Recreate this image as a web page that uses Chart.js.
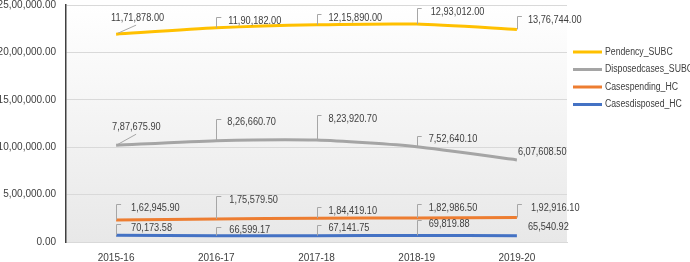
<!DOCTYPE html>
<html><head><meta charset="utf-8">
<script src="https://cdn.jsdelivr.net/npm/chart.js@4.4.1/dist/chart.umd.min.js"></script>
<style>html,body{margin:0;padding:0;background:#fff}#wrap{width:690px;height:262px}</style>
</head><body><div id="wrap"><canvas id="c" width="690" height="262"></canvas></div>
<script>
const categories = ['2015-16','2016-17','2017-18','2018-19','2019-20'];
const seriesNames = ['Casesdisposed_HC','Casespending_HC','Disposedcases_SUBC','Pendency_SUBC'];
const casesDisposedHC = [70173.58, 66599.17, 67141.75, 69819.88, 65540.92];
const casesPendingHC = [162945.90, 175579.50, 184419.10, 182986.50, 192916.10];
const disposedCasesSUBC = [787675.90, 826660.70, 823920.70, 752640.10, 607608.50];
const pendencySUBC = [1171878.00, 1190182.00, 1215890.00, 1293012.00, 1376744.00];
const yTicks = [0, 500000, 1000000, 1500000, 2000000, 2500000];

const FONT = "'Liberation Sans', Arial, sans-serif";
const TXT = '#404040';

function inr(v){
  const parts = Math.abs(v).toFixed(2).split('.');
  let i = parts[0];
  let last3 = i.slice(-3), rest = i.slice(0,-3);
  if (rest) last3 = rest.replace(/\B(?=(\d{2})+(?!\d))/g, ',') + ',' + last3;
  return last3 + '.' + parts[1];
}

function drawNarrow(ctx, text, x, y, sx){
  ctx.save();
  ctx.translate(x, y);
  ctx.scale(sx, 1);
  ctx.fillText(text, 0, 0);
  ctx.restore();
}

// label placement relative to each point: [dx, dy, leader]
const labelLayout = [
  [[15,-7,'b'],[13,-5,'b'],[12,-7,'b'],[12,-11,'b'],[11,-9,'n']],
  [[15,-12,'b'],[13,-19,'b'],[12,-7,'b'],[12,-10,'b'],[14,-9,'b']],
  [[-4,-18,'d'],[11,-18,'b'],[12,-21,'b'],[12,-7,'b'],[1,-8,'n']],
  [[-5,-16,'d'],[12,-7,'b'],[12,-7,'b'],[14,-12,'b'],[11,-9,'b']]
];

const bgPlugin = {
  id:'bg',
  beforeDraw(chart){
    const {ctx, chartArea:a} = chart;
    const g = ctx.createLinearGradient(0,a.top,0,a.bottom);
    g.addColorStop(0,'#ffffff');
    g.addColorStop(1,'#e8e8e8');
    ctx.save(); ctx.fillStyle=g; ctx.fillRect(a.left,a.top,a.right-a.left,a.bottom-a.top); ctx.restore();
  }
};

const labelPlugin = {
  id:'labels',
  afterDatasetsDraw(chart){
    const ctx = chart.ctx;
    ctx.save();
    ctx.font = '10px ' + FONT;
    ctx.fillStyle = TXT;
    ctx.textBaseline = 'middle';
    ctx.textAlign = 'left';
    chart.data.datasets.forEach((ds, di) => {
      const meta = chart.getDatasetMeta(di);
      meta.data.forEach((pt, i) => {
        const [dx, dy, lt] = labelLayout[di][i];
        const text = inr(ds.data[i]);
        const lx = pt.x + dx, ly = pt.y + dy;
        ctx.strokeStyle = '#a6a6a6'; ctx.lineWidth = 1;
        if (lt === 'b') {
          ctx.beginPath();
          ctx.moveTo(Math.round(pt.x)+0.5, pt.y);
          ctx.lineTo(Math.round(pt.x)+0.5, Math.round(ly - 4)+0.5);
          ctx.lineTo(pt.x + 5, Math.round(ly - 4)+0.5);
          ctx.stroke();
        } else if (lt === 'd') {
          ctx.beginPath();
          ctx.moveTo(pt.x + 2, pt.y - 1);
          ctx.lineTo(pt.x + 20, ly + 7);
          ctx.stroke();
        }
        drawNarrow(ctx, text, lx, ly, 0.92);
      });
    });
    ctx.restore();
  }
};

const legendPlugin = {
  id:'customLegend',
  afterDraw(chart){
    const ctx = chart.ctx;
    const order = [3,2,1,0];
    ctx.save();
    ctx.font = '10px ' + FONT;
    ctx.textBaseline = 'middle';
    ctx.textAlign = 'left';
    order.forEach((di, k) => {
      const ds = chart.data.datasets[di];
      const y = 52 + k * 17.5;
      ctx.strokeStyle = ds.borderColor; ctx.lineWidth = 3;
      ctx.beginPath(); ctx.moveTo(573, y); ctx.lineTo(602, y); ctx.stroke();
      ctx.fillStyle = TXT;
      drawNarrow(ctx, ds.label, 605, y, 0.87);
    });
    ctx.restore();
  }
};

const colors = ['#4472C4','#ED7D31','#A5A5A5','#FFC000'];
const values = [casesDisposedHC, casesPendingHC, disposedCasesSUBC, pendencySUBC];

new Chart(document.getElementById('c'), {
  type:'line',
  data:{
    labels: categories,
    datasets: values.map((v, i) => ({
      label: seriesNames[i], data: v, borderColor: colors[i], backgroundColor: colors[i],
      borderWidth: 3, pointRadius: 0, tension: 0.2, fill: false
    }))
  },
  options:{
    responsive:false, animation:false,
    layout:{padding:{top:0, right:123, left:0, bottom:0}},
    plugins:{legend:{display:false}, tooltip:{enabled:false}},
    scales:{
      x:{
        offset:true,
        grid:{display:false, drawTicks:false},
        border:{color:'#d9d9d9', width:1},
        ticks:{padding:10, color:TXT, font:{family:FONT, size:10}},
        afterFit(s){ s.height = 20; }
      },
      y:{
        stacked:true, min:0, max:2500000,
        afterBuildTicks(s){ s.ticks = yTicks.map(v => ({value:v})); },
        grid:{color:'#d9d9d9', drawTicks:false},
        border:{color:'#404040', width:1.5},
        ticks:{padding:10, color:TXT, font:{family:FONT, size:10}, callback:v => inr(v)},
        afterFit(s){ s.width = 66; s.paddingTop = 5; s.paddingBottom = 0; }
      }
    }
  },
  plugins:[bgPlugin, labelPlugin, legendPlugin]
});
</script></body></html>
